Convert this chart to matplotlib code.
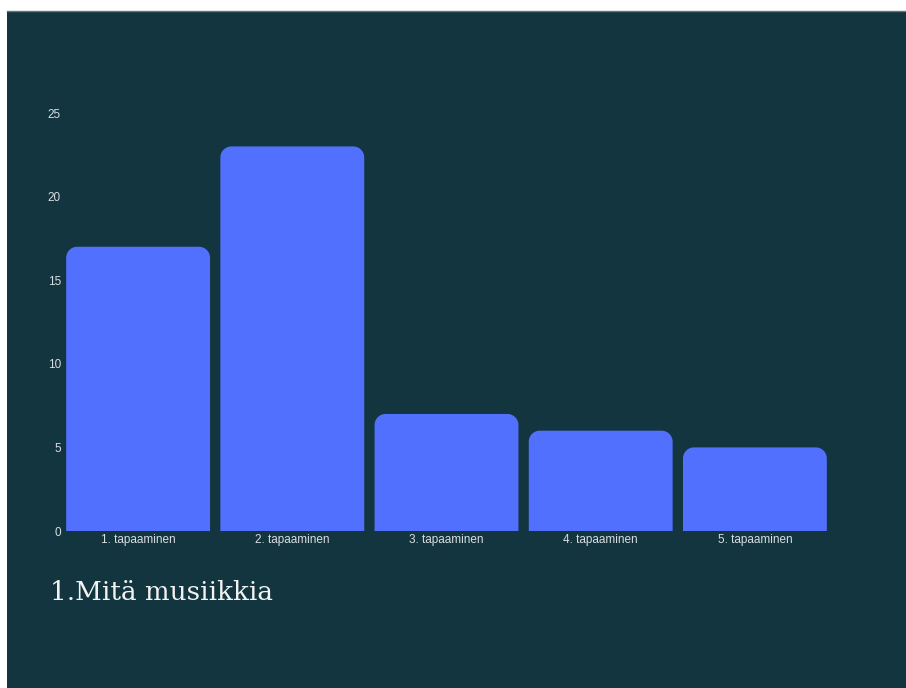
import numpy as np
import matplotlib
matplotlib.use("Agg")
import matplotlib.pyplot as plt
from matplotlib.patches import Polygon, Rectangle

categories = ["1. tapaaminen", "2. tapaaminen", "3. tapaaminen", "4. tapaaminen", "5. tapaaminen"]
counts = [17, 23, 7, 6, 5]
yticks = [0, 5, 10, 15, 20, 25]
title = "1.Mitä musiikkia"

BG = "#12353f"
BAR = "#5170fd"
TXT = "#d9dee2"

W, H = 906, 688
fig = plt.figure(figsize=(W / 100, H / 100), dpi=100, facecolor="white")

# dark card, with a white margin on the top and left
fig.patches.append(Rectangle((7 / W, 0), 1, 1 - 11 / H, transform=fig.transFigure,
                             facecolor=BG, edgecolor="none", zorder=-2))
fig.lines.append(plt.Line2D([7 / W, 1], [1 - 11 / H, 1 - 11 / H], transform=fig.transFigure,
                            color="#6b7479", lw=1, zorder=-1))

left, right = 61, 832
bottom, top = 531, 113
ax = fig.add_axes([left / W, 1 - bottom / H, (right - left) / W, (bottom - top) / H])
ax.set_facecolor("none")
for s in ax.spines.values():
    s.set_visible(False)

x = np.arange(len(categories))
bars = ax.bar(x, counts, width=0.933, color=BAR)
ax.set_xlim(-0.5, len(categories) - 0.5)
ax.set_ylim(0, 25)

# swap each rectangle for one with rounded top corners (radius in pixels)
r_px = 11
rx = r_px / ((right - left) / len(categories))
ry = r_px / ((bottom - top) / 25)
t = np.linspace(0, np.pi / 2, 16)
for b in bars:
    x0, w, h = b.get_x(), b.get_width(), b.get_height()
    x1 = x0 + w
    pts = [(x0, 0)]
    pts += [(x0 + rx - rx * np.cos(a), h - ry + ry * np.sin(a)) for a in t]
    pts += [(x1 - rx + rx * np.sin(a), h - ry + ry * np.cos(a)) for a in t]
    pts += [(x1, 0)]
    b.set_visible(False)
    ax.add_patch(Polygon(pts, closed=True, facecolor=BAR, edgecolor="none"))

ax.set_xticks(x)
ax.set_xticklabels(categories)
ax.set_yticks(yticks)
ax.tick_params(length=0, colors=TXT, labelsize=8.5)
ax.tick_params(axis="y", pad=0)
ax.tick_params(axis="x", pad=2)
for lab in ax.get_xticklabels() + ax.get_yticklabels():
    lab.set_family("Liberation Sans")

fig.text(50 / W, 1 - 592 / H, title, color="#f2f2f2", fontsize=18.8,
         family="DejaVu Serif", va="center", ha="left")

fig.savefig("out.png", dpi=100, facecolor=fig.get_facecolor())
